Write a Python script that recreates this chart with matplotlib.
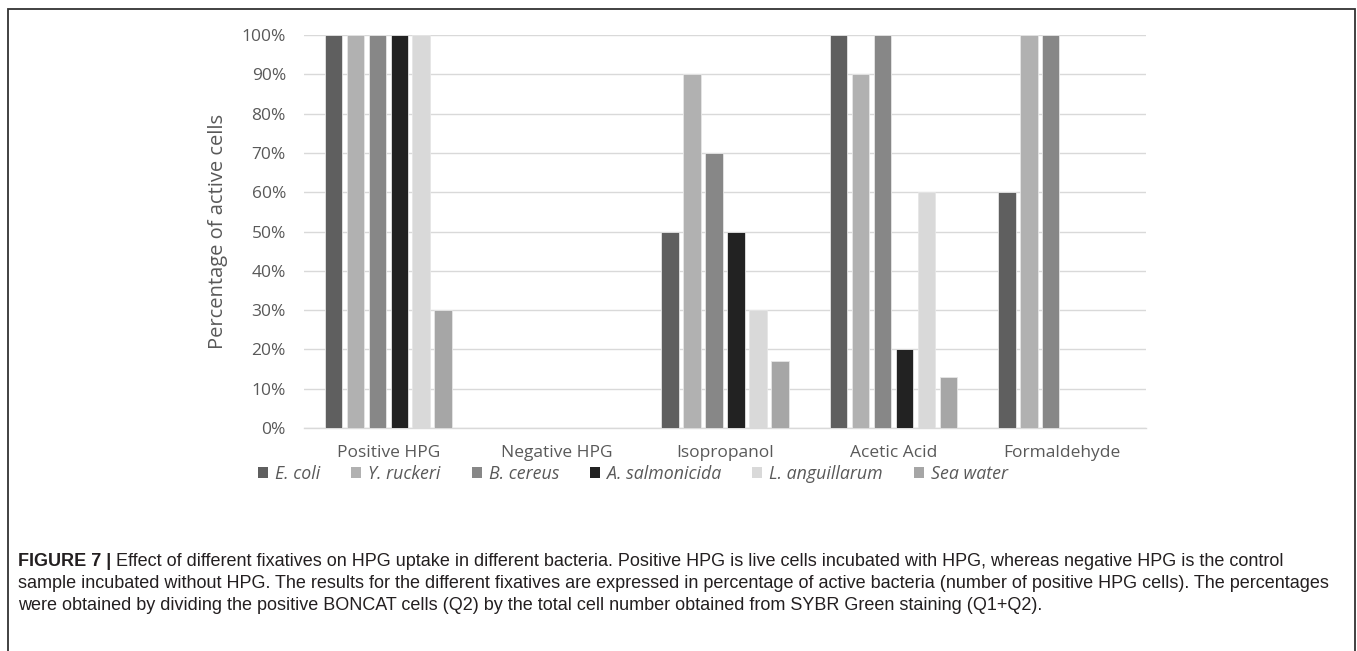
import matplotlib
matplotlib.use("Agg")
import matplotlib.pyplot as plt
import numpy as np
from matplotlib.patches import Rectangle, Patch

categories = ["Positive HPG", "Negative HPG", "Isopropanol", "Acetic Acid", "Formaldehyde"]
series_names = ["E. coli", "Y. ruckeri", "B. cereus", "A. salmonicida", "L. anguillarum", "Sea water"]
e_coli = [100, 0, 50, 100, 60]
y_ruckeri = [100, 0, 90, 90, 100]
b_cereus = [100, 0, 70, 100, 100]
a_salmonicida = [100, 0, 50, 20, 0]
l_anguillarum = [100, 0, 30, 60, 0]
sea_water = [30, 0, 17, 13, 0]
yticks = [0, 10, 20, 30, 40, 50, 60, 70, 80, 90, 100]
colors = ["#5f5f5f", "#b1b1b1", "#878787", "#222222", "#d9d9d9", "#a6a6a6"]

caption_bold = "FIGURE 7 |"
caption_lines = [
    " Effect of different fixatives on HPG uptake in different bacteria. Positive HPG is live cells incubated with HPG, whereas negative HPG is the control",
    "sample incubated without HPG. The results for the different fixatives are expressed in percentage of active bacteria (number of positive HPG cells). The percentages",
    "were obtained by dividing the positive BONCAT cells (Q2) by the total cell number obtained from SYBR Green staining (Q1+Q2).",
]

W, H = 1357, 651
fig = plt.figure(figsize=(W / 100, H / 100), dpi=100)
ax = fig.add_axes([304 / W, 1 - 428 / H, (1146 - 304) / W, (428 - 35) / H])

data = [e_coli, y_ruckeri, b_cereus, a_salmonicida, l_anguillarum, sea_water]
x = np.arange(len(categories))
pitch = 0.1305
bw = 0.103
for i, (vals, c) in enumerate(zip(data, colors)):
    offs = (i - 2.5) * pitch
    ax.bar(x + offs, vals, width=bw, color=c, edgecolor="#e6e6e6", linewidth=0.6, zorder=3)

ax.set_xlim(-0.5, len(categories) - 0.5)
ax.set_ylim(0, 100)
ax.set_yticks(yticks)
ax.set_yticklabels([f"{v}%" for v in yticks])
ax.set_xticks(x)
ax.set_xticklabels(categories)
ax.yaxis.grid(True, color="#d9d9d9", linewidth=1.0, zorder=0)
ax.set_axisbelow(True)
for s in ["top", "right", "left"]:
    ax.spines[s].set_visible(False)
ax.spines["bottom"].set_color("#d9d9d9")
ax.spines["bottom"].set_linewidth(1.0)
ax.tick_params(length=0, colors="#595959", labelsize=12.5)
ax.tick_params(axis="x", pad=12)
ax.tick_params(axis="y", pad=13)
for lab in ax.get_xticklabels() + ax.get_yticklabels():
    lab.set_fontfamily("Open Sans")
ax.set_ylabel("Percentage of active cells", fontsize=14.5, color="#595959", family="Open Sans", labelpad=10)

handles = [Patch(facecolor=c, edgecolor="none") for c in colors]
leg = fig.legend(handles, series_names, loc="center", bbox_to_anchor=(633 / W, 1 - 474 / H), ncol=6,
                 frameon=False, handlelength=0.55, handleheight=0.55, handletextpad=0.4, columnspacing=1.75,
                 prop={"family": "Open Sans", "style": "italic", "size": 12.8})
for t in leg.get_texts():
    t.set_color("#595959")

# caption
cx = 18 / W
fs = 13
t0 = fig.text(cx, 1 - 561 / H, caption_bold, fontsize=fs, fontweight="bold", family="Liberation Sans",
              color="#231f20", va="center", ha="left")
ann = plt.annotate(caption_lines[0], xy=(1, 0.5), xycoords=t0, va="center", ha="left", fontsize=fs,
                   family="Liberation Sans", color="#231f20", annotation_clip=False)
for k, line in enumerate(caption_lines[1:]):
    fig.text(cx, 1 - (583 + 22 * k) / H, line, fontsize=fs, family="Liberation Sans", color="#231f20",
             va="center", ha="left")

# frame
fig.add_artist(Rectangle((8 / W, -0.2), (1355 - 8) / W, 1 - 9 / H + 0.2, transform=fig.transFigure,
                         fill=False, edgecolor="#333333", linewidth=1.3, clip_on=False))

fig.savefig("out.png", dpi=100, facecolor="white")
